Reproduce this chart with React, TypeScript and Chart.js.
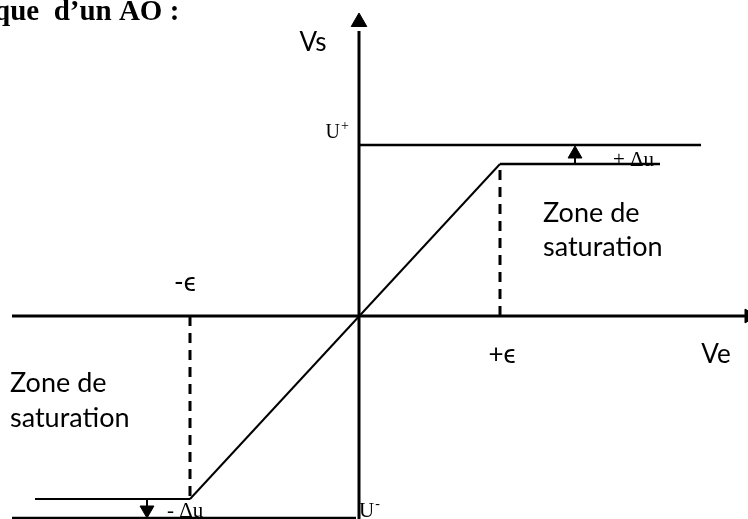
import React, { useEffect, useRef } from "react";
import { Chart, registerables } from "chart.js";
Chart.register(...registerables);

// Units: arbitrary (Ve horizontal, Vs vertical), origin at axes crossing
const epsPlus = 14.1;
const epsMinus = -16.9;
const vsatPlus = 15.2;
const vsatMinus = -18.3;
const uPlus = 17.1;
const uMinus = -20.2;

const xAxisLine = [-34.7, 40];
const yAxisLine = [-21, 28.5];
const uPlusLineX = [0, 34.2];
const satPlusLineX = [epsPlus, 30.1];
const satMinusLineX = [-32.4, epsMinus];
const uMinusLineX = [-34.7, -0.3];
const upArrowX = 21.6;
const downArrowX = -21.2;

type Lbl = { t: string; x: number; y: number; font: string; align?: CanvasTextAlign; sup?: string };
const labels: Lbl[] = [
  { t: "Vs", x: -4.6, y: 27.3, font: "26px Lato" },
  { t: "U", x: -1.9, y: 18.3, font: "20px 'Liberation Serif'", align: "right", sup: "+" },
  { t: "+ Δu", x: 25.4, y: 15.6, font: "21px 'Liberation Serif'", align: "left" },
  { t: "Zone de", x: 18.4, y: 10.3, font: "27px Lato", align: "left" },
  { t: "saturation", x: 18.4, y: 6.9, font: "27px Lato", align: "left" },
  { t: "-ϵ", x: -17.4, y: 3.3, font: "26px Lato" },
  { t: "+ϵ", x: 14.3, y: -3.9, font: "26px Lato" },
  { t: "Ve", x: 35.7, y: -3.9, font: "26px Lato" },
  { t: "Zone de", x: -34.9, y: -6.7, font: "27px Lato", align: "left" },
  { t: "saturation", x: -34.9, y: -10.2, font: "27px Lato", align: "left" },
  { t: "- Δu", x: -19.2, y: -19.5, font: "21px 'Liberation Serif'", align: "left" },
  { t: "U", x: 0.0, y: -19.5, font: "21px 'Liberation Serif'", align: "left", sup: "-" },
  { t: "que  d’un AO :", x: -36.5, y: 30.3, font: "bold 29px 'Liberation Serif'", align: "left" },
];

const seg = (xs: number[], ys: number[]) => xs.map((x, i) => ({ x, y: ys[i] }));

export default function App() {
  const ref = useRef<HTMLCanvasElement>(null);
  useEffect(() => {
    if (!ref.current) return;
    const line = (data: any[], width: number, dash: number[] = []) => ({
      data,
      showLine: true,
      borderColor: "#000",
      borderWidth: width,
      borderDash: dash,
      pointRadius: 0,
      fill: false,
      tension: 0,
    });
    const textPlugin = {
      id: "texts",
      afterDatasetsDraw(chart: any) {
        const ctx = chart.ctx;
        const xs = chart.scales.x;
        const ys = chart.scales.y;
        ctx.save();
        ctx.fillStyle = "#000";
        ctx.textBaseline = "middle";
        for (const l of labels) {
          ctx.font = l.font;
          const align = l.align || "center";
          ctx.textAlign = align;
          const px = xs.getPixelForValue(l.x);
          const py = ys.getPixelForValue(l.y);
          ctx.fillText(l.t, px, py);
          if (l.sup) {
            const w = ctx.measureText(l.t).width;
            const end = align === "left" ? px + w : align === "right" ? px : px + w / 2;
            ctx.font = "14px 'Liberation Serif'";
            ctx.textAlign = "left";
            ctx.fillText(l.sup, end + 1, py - 7);
          }
        }
        ctx.restore();
      },
    };
    const tri = (pts: any[], radius: number, rotation: number) => ({
      data: pts,
      pointStyle: "triangle",
      pointRadius: radius,
      rotation,
      backgroundColor: "#000",
      borderColor: "#000",
      borderWidth: 1,
      showLine: false,
    });
    const chart = new Chart(ref.current, {
      type: "scatter",
      data: {
        datasets: [
          line(seg(xAxisLine, [0, 0]), 3),
          line(seg([0, 0], yAxisLine), 3),
          line(seg(uPlusLineX, [uPlus, uPlus]), 2.5),
          line(seg(satPlusLineX, [vsatPlus, vsatPlus]), 2.5),
          line(seg([epsMinus, epsPlus], [vsatMinus, vsatPlus]), 2),
          line(seg([epsPlus, epsPlus], [0, vsatPlus]), 3, [10, 7]),
          line(seg([epsMinus, epsMinus], [0, vsatMinus]), 3, [10, 7]),
          line(seg(satMinusLineX, [vsatMinus, vsatMinus]), 2),
          line(seg(uMinusLineX, [uMinus, uMinus]), 2.5),
          line(seg([upArrowX, upArrowX], [vsatPlus, 16.0]), 2),
          line(seg([downArrowX, downArrowX], [vsatMinus, -19.2]), 2),
          tri([{ x: 0, y: 29.4 }], 9, 0),
          tri([{ x: upArrowX, y: 16.2 }], 8, 0),
          tri([{ x: downArrowX, y: -19.4 }], 8, 180),
          tri([{ x: 39.0, y: 0 }], 8, 90),
        ] as any,
      },
      options: {
        animation: false,
        responsive: false,
        maintainAspectRatio: false,
        devicePixelRatio: 1,
        layout: { padding: 0, autoPadding: false },
        plugins: { legend: { display: false }, tooltip: { enabled: false } },
        scales: {
          x: { type: "linear", min: -35.9, max: 38.9, display: false },
          y: { type: "linear", min: -20.3, max: 31.6, display: false },
        },
      } as any,
      plugins: [textPlugin],
    });
    return () => chart.destroy();
  }, []);
  return (
    <div style={{ position: "absolute", left: 0, top: 0, width: 748, height: 519, background: "#fff", overflow: "hidden" }}>
      <canvas ref={ref} width={748} height={519} style={{ display: "block", width: 748, height: 519 }} />
    </div>
  );
}
